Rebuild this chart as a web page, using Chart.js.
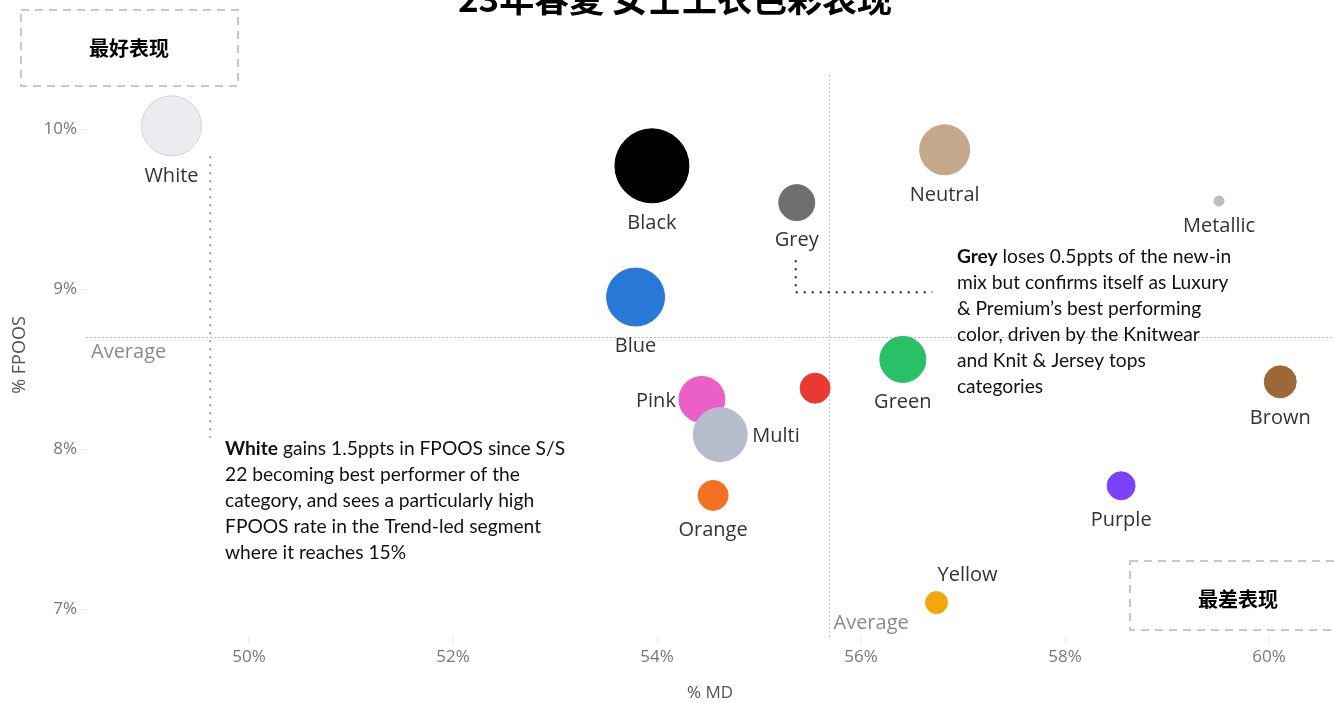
<!DOCTYPE html>
<html lang="zh">
<head>
<meta charset="utf-8">
<title>23年春夏 女士上衣色彩表现</title>
<script src="https://cdn.jsdelivr.net/npm/chart.js@4.4.1/dist/chart.umd.min.js"></script>
<style>
  html, body { margin: 0; padding: 0; background: #fff; }
  canvas { display: block; }
</style>
</head>
<body>
<canvas id="colors" width="1334" height="703"></canvas>
<script>
// colour families: markdown rate (x) vs full-price sell-out (y), bubble = new-in mix
const colorNames = ['White', 'Black', 'Grey', 'Neutral', 'Metallic', 'Blue', 'Red', 'Green', 'Pink', 'Multi', 'Orange', 'Brown', 'Purple', 'Yellow']
const md = [49.24, 53.95, 55.37, 56.82, 59.51, 53.79, 55.55, 56.41, 54.44, 54.62, 54.55, 60.11, 58.55, 56.74]
const fpoos = [10.02, 9.77, 9.54, 9.87, 9.55, 8.95, 8.38, 8.56, 8.31, 8.09, 7.71, 8.42, 7.77, 7.04]
const mixSize = [30, 37, 18, 25, 5, 29, 15, 23, 23, 27, 15, 16, 14, 11]
const avgMD = 55.69
const avgFPOOS = 8.70
const xTicks = [50, 52, 54, 56, 58, 60]
const yTicks = [7, 8, 9, 10]

const fills = {
  White: '#ebebf0', Black: '#000000', Grey: '#6e6e6e', Neutral: '#c4a88c', Metallic: '#bdbdbd',
  Blue: '#2878d8', Red: '#e83a30', Green: '#2ac068', Pink: '#ea60c6', Multi: '#b5bdcc',
  Orange: '#f47022', Brown: '#9c6838', Purple: '#7c42f8', Yellow: '#f2a80a'
}
// where each name sits relative to its bubble (Red has no label)
const labelSide = {
  White: 'below', Black: 'below', Grey: 'below', Neutral: 'below', Metallic: 'below', Blue: 'below',
  Green: 'below', Pink: 'left', Multi: 'right', Orange: 'below', Brown: 'below', Purple: 'below', Yellow: 'above'
}

const whiteNote = {
  x: 49.765, y: 8.0, lead: 'White',
  lines: [' gains 1.5ppts in FPOOS since S/S', '22 becoming best performer of the', 'category, and sees a particularly high', 'FPOOS rate in the Trend-led segment', 'where it reaches 15%']
}
const greyNote = {
  x: 56.94, y: 9.2, lead: 'Grey',
  lines: [' loses 0.5ppts of the new-in', 'mix but confirms itself as Luxury', '& Premium\u2019s best performing', 'color, driven by the Knitwear', 'and Knit & Jersey tops', 'categories']
}

const LABEL_FONT = '20px "Open Sans"'
const NOTE_FONT = '19.2px Lato'
const NOTE_BOLD = 'bold 19.2px Lato'

function dotted(ctx, pts, color, dash) {
  ctx.save()
  ctx.strokeStyle = color
  ctx.lineWidth = 2
  ctx.setLineDash(dash)
  ctx.beginPath()
  pts.forEach(([px, py], i) => i ? ctx.lineTo(px, py) : ctx.moveTo(px, py))
  ctx.stroke()
  ctx.restore()
}

function drawNote(ctx, note, x, y) {
  ctx.save()
  ctx.fillStyle = '#111'
  ctx.textBaseline = 'middle'
  ctx.textAlign = 'left'
  const left = x.getPixelForValue(note.x)
  const top = y.getPixelForValue(note.y)
  ctx.font = NOTE_BOLD
  ctx.fillText(note.lead, left, top)
  const leadW = ctx.measureText(note.lead).width
  ctx.font = NOTE_FONT
  note.lines.forEach((line, i) => {
    ctx.fillText(line, i === 0 ? left + leadW : left, top + i * 25.9)
  })
  ctx.restore()
}

function dashedBox(ctx, bx, by, bw, bh, text) {
  ctx.save()
  ctx.strokeStyle = '#c8c8c8'
  ctx.lineWidth = 2
  ctx.setLineDash([8, 6])
  ctx.strokeRect(bx, by, bw, bh)
  ctx.setLineDash([])
  ctx.fillStyle = '#000'
  ctx.font = 'bold 20px "Noto Sans CJK SC"'
  ctx.textAlign = 'center'
  ctx.textBaseline = 'middle'
  ctx.fillText(text, bx + 108, by + 38)
  ctx.restore()
}

const overlay = {
  id: 'overlay',
  beforeDatasetsDraw(chart) {
    const { ctx, chartArea: a, scales: { x, y } } = chart
    const ax = Math.round(x.getPixelForValue(avgMD)) + 0.5
    const ay = Math.round(y.getPixelForValue(avgFPOOS)) + 0.5
    ctx.save()
    ctx.strokeStyle = '#bdbdbd'
    ctx.lineWidth = 1
    ctx.setLineDash([2, 2])
    ctx.beginPath()
    ctx.moveTo(a.left, ay)
    ctx.lineTo(a.right, ay)
    ctx.moveTo(ax, 75)
    ctx.lineTo(ax, a.bottom)
    ctx.stroke()
    ctx.setLineDash([])

    ctx.fillStyle = '#8a8a8a'
    ctx.font = LABEL_FONT
    ctx.textBaseline = 'middle'
    ctx.textAlign = 'left'
    ctx.fillText('Average', a.left + 5, ay + 15)
    ctx.fillText('Average', ax + 4, a.bottom - 14)
    ctx.restore()

    // connectors from the notes to their bubbles
    dotted(ctx, [[x.getPixelForValue(49.62), y.getPixelForValue(9.83)], [x.getPixelForValue(49.62), y.getPixelForValue(8.07)]], '#999', [2, 6])
    const gx = x.getPixelForValue(55.36)
    dotted(ctx, [[gx, y.getPixelForValue(9.18)], [gx, y.getPixelForValue(8.98)], [x.getPixelForValue(56.7), y.getPixelForValue(8.98)]], '#222', [2, 6])
  },
  afterDatasetsDraw(chart) {
    const { ctx, scales: { x, y } } = chart
    ctx.save()
    ctx.font = LABEL_FONT
    ctx.fillStyle = '#333'
    ctx.textBaseline = 'middle'
    colorNames.forEach((name, i) => {
      const side = labelSide[name]
      if (!side) return
      const cx = x.getPixelForValue(md[i])
      const cy = y.getPixelForValue(fpoos[i])
      const r = mixSize[i]
      if (side === 'below') {
        ctx.textAlign = 'center'
        ctx.fillText(name, cx, cy + r + 20)
      } else if (side === 'above') {
        ctx.textAlign = 'left'
        ctx.fillText(name, cx + 1, cy - r - 16)
      } else if (side === 'left') {
        ctx.textAlign = 'right'
        ctx.fillText(name, cx - r - 3, cy + 2)
      } else {
        ctx.textAlign = 'left'
        ctx.fillText(name, cx + r + 5, cy + 2)
      }
    })

    // y axis title
    ctx.translate(20, 355)
    ctx.rotate(-Math.PI / 2)
    ctx.textAlign = 'center'
    ctx.fillStyle = '#555'
    ctx.font = '18px "Open Sans"'
    ctx.fillText('% FPOOS', 0, 0)
    ctx.restore()

    drawNote(ctx, whiteNote, x, y)
    drawNote(ctx, greyNote, x, y)

    dashedBox(ctx, 21, 10, 217, 76, '最好表现')
    dashedBox(ctx, 1130, 561, 220, 69, '最差表现')

    ctx.save()
    ctx.fillStyle = '#000'
    ctx.font = 'bold 35px "Noto Sans CJK SC"'
    ctx.textAlign = 'center'
    ctx.textBaseline = 'alphabetic'
    ctx.fillText('23年春夏 女士上衣色彩表现', 675, 12)
    ctx.restore()
  }
}

const tickFont = { family: 'Open Sans', size: 17 }

new Chart(document.getElementById('colors'), {
  type: 'bubble',
  data: {
    datasets: [{
      data: colorNames.map((n, i) => ({ x: md[i], y: fpoos[i], r: mixSize[i] })),
      backgroundColor: colorNames.map(n => fills[n]),
      borderColor: colorNames.map(n => n === 'White' ? '#d2d2da' : fills[n]),
      borderWidth: 1,
      hoverRadius: 0,
      clip: false
    }]
  },
  options: {
    responsive: false,
    animation: false,
    events: [],
    layout: { autoPadding: false, padding: { top: 30, left: 0, right: 0, bottom: 0 } },
    plugins: { legend: { display: false }, tooltip: { enabled: false } },
    scales: {
      x: {
        type: 'linear',
        min: 48.402,
        max: 60.637,
        afterBuildTicks: s => { s.ticks = xTicks.map(v => ({ value: v })) },
        afterFit: s => { s.height = 66; s.paddingLeft = 0; s.paddingRight = 0 },
        border: { display: false },
        grid: { drawOnChartArea: false, drawTicks: true, tickLength: 6, color: '#e8e8e8' },
        ticks: { color: '#777', font: tickFont, padding: 4, callback: v => v + '%' },
        title: { display: true, text: '% MD', color: '#555', font: { family: 'Open Sans', size: 17 }, padding: { top: -2, bottom: 0 } }
      },
      y: {
        type: 'linear',
        min: 6.825,
        max: 10.619,
        afterBuildTicks: s => { s.ticks = yTicks.map(v => ({ value: v })) },
        afterFit: s => { s.width = 86; s.paddingTop = 0; s.paddingBottom = 0 },
        border: { display: false },
        grid: { drawOnChartArea: false, drawTicks: true, tickLength: 6, color: '#e8e8e8' },
        ticks: { color: '#777', font: tickFont, padding: 3, callback: v => v + '%' }
      }
    }
  },
  plugins: [overlay]
})
</script>
</body>
</html>
